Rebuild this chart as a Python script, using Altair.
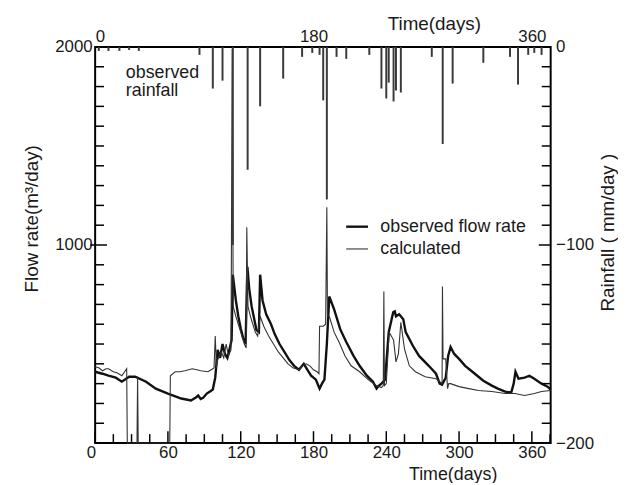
import altair as alt
import pandas as pd

# ---------------- data ----------------
series_names = ["observed flow rate", "calculated"]

obs_day = [0, 6, 11, 17, 22, 28, 33, 42, 50, 60, 71, 79, 83, 85, 87, 89, 92, 95, 97,
           99, 101, 103, 105, 107, 109, 111, 112.5, 113.5, 116, 118, 120, 122, 124,
           125.5, 127, 129, 131, 133, 135, 136, 138, 141, 145, 148, 152, 156, 160,
           164, 168, 172, 175, 178, 182, 185, 187, 189, 191, 193, 197, 202, 207, 213,
           218, 224, 229, 232, 234, 236, 239, 242, 245.7, 247, 248, 250.6, 254, 256,
           262, 267, 275, 281, 284, 286, 289, 291, 293, 296, 300, 305, 311, 316, 320,
           327, 332, 338, 343, 345, 346.5, 349, 354, 358, 362, 368, 373, 375.5]
obs_flow = [360, 350, 340, 330, 310, 335, 335, 310, 275, 250, 225, 215, 230, 240, 222, 228, 250, 262, 270,
            330, 470, 430, 500, 450, 430, 480, 520, 850, 720, 640, 580, 530, 500,
            890, 780, 690, 630, 570, 560, 850, 720, 650, 600, 550, 500, 460, 420,
            390, 370, 400, 370, 340, 320, 275, 300, 320, 500, 740, 675, 575, 510, 440,
            390, 340, 310, 275, 290, 300, 320, 560, 660, 665, 640, 650, 625, 560,
            490, 440, 390, 350, 300, 295, 330, 440, 485, 450, 425, 390, 360, 335, 315,
            290, 275, 260, 255, 300, 360, 325, 330, 340, 325, 300, 285, 270]

calc_day = [0, 3, 6, 9, 11, 15, 18, 22, 26, 26.5, 34.5, 35, 35.5, 61.5, 62, 66, 70, 74, 80,
            84, 87, 93, 97, 98, 99, 100, 101, 104, 106, 108, 110, 112, 113, 113.8, 116,
            118, 121, 123, 124.5, 125, 126, 128, 130, 132, 134, 136, 139, 143, 147, 151,
            155, 159, 163, 168, 171, 174, 177, 180, 183, 184.5, 185, 188, 190, 191, 191.5,
            193, 197, 201, 206, 211, 218, 226, 232, 236, 237.5, 238, 238.5, 240, 242.4,
            246, 248, 250, 252, 254, 255, 259, 264, 272, 281, 284, 286, 286.3, 286.8, 289,
            290.5, 291.5, 293, 300, 308, 316, 327, 338, 346, 354, 362, 368, 375.5]
calc_flow = [385, 380, 365, 375, 375, 360, 355, 340, 375, 0, 0, 335, 0, 0, 340, 360, 360, 365, 375,
             370, 365, 360, 375, 380, 540, 380, 420, 460, 430, 500, 440, 470, 1990, 690, 640,
             600, 540, 500, 480, 1090, 690, 640, 600, 560, 540, 640, 590, 540, 500, 460,
             430, 400, 380, 370, 390, 400, 390, 370, 360, 350, 590, 590, 600, 1190, 640,
             640, 560, 510, 440, 390, 360, 315, 290, 280, 290, 765, 290, 300, 560,
             520, 410, 450, 610, 520, 475, 390, 360, 335, 325, 310, 300, 790, 425, 425,
             275, 300, 300, 285, 275, 265, 260, 250, 250, 240, 250, 260, 265]

rain_day = [3, 11, 20, 28, 36, 86, 97, 105, 113.5, 125.7, 136, 155, 170.6, 179, 185, 188,
            191, 199, 207, 226, 236, 240, 242, 246, 248, 252, 277.5, 286.5, 294.7, 320,
            342, 348.6, 357, 362, 368]
rain_mm = [2, 2, 2, 1.5, 2, 4, 21, 17, 100, 62, 30, 16, 5, 3, 4, 27,
           77, 5, 6, 4, 21, 26, 18, 27.5, 22, 23, 5, 49, 18.5, 8,
           5, 19, 4, 3, 4]

bottom_labels = [0, 60, 120, 180, 240, 300, 360]
top_labels = [0, 180, 360]
left_labels = [1000, 2000]
right_labels = [-200, -100, 0]
x_minor_ticks = [d for d in range(0, 376, 15) if d % 60 != 0]
x_major_ticks = [0, 60, 120, 180, 240, 300, 360]
flow_minor_ticks = [f for f in range(0, 2001, 100) if f % 1000 != 0]
flow_major_ticks = [1000]
rain_minor_ticks = [r for r in range(-200, 1, 10) if r % 100 != 0]
rain_major_ticks = [-100]
note_text = "observed\nrainfall"

# ---------------- chart ----------------
W, H = 460, 400
FONT = "Liberation Sans"
INK = "#1a1a1a"

flow_df = pd.concat([
    pd.DataFrame({"day": obs_day, "flow": obs_flow, "series": series_names[0]}),
    pd.DataFrame({"day": calc_day, "flow": calc_flow, "series": series_names[1]}),
])
rain_df = pd.DataFrame({"day": rain_day, "rain": [-r for r in rain_mm]})
note_df = pd.DataFrame({"t": [note_text]})

xs = alt.Scale(domain=[0, 375.5], nice=False, zero=False)
fs = alt.Scale(domain=[0, 2000], nice=False)
rs = alt.Scale(domain=[-200, 0], nice=False)

leg = alt.Legend(title=None, orient="none", legendX=252, legendY=169,
                 symbolType="stroke", symbolSize=484, labelFontSize=18,
                 labelFont=FONT, labelColor=INK, labelOffset=11, rowPadding=1)

lines = alt.Chart(flow_df).mark_line().encode(
    x=alt.X("day:Q", scale=xs, axis=alt.Axis(
        orient="bottom", values=bottom_labels, title="Time(days)", labelPadding=2,
        labelOffset=alt.condition("datum.value == 0", alt.value(-9), alt.value(0)),
        titleFontSize=18, titleX=361, titleY=32, titleBaseline="middle")),
    y=alt.Y("flow:Q", scale=fs, axis=alt.Axis(
        orient="left", values=left_labels, format="d", title="Flow rate(m³/day)", labelPadding=3,
        titleX=-64, titleY=173, titleAngle=270, titleBaseline="middle")),
    color=alt.Color("series:N", scale=alt.Scale(domain=series_names, range=["#111111", "#333333"]), legend=leg),
    strokeWidth=alt.StrokeWidth("series:N", scale=alt.Scale(domain=series_names, range=[2.4, 1.1]), legend=leg),
)

rain = alt.Chart(rain_df).mark_rule(strokeWidth=2, color="#3a3a3a").encode(
    x=alt.X("day:Q", scale=xs, axis=alt.Axis(
        orient="top", values=top_labels, title="Time(days)", labelPadding=1,
        titleX=342, titleY=-24, titleBaseline="middle")),
    y=alt.Y("rain:Q", scale=rs, axis=alt.Axis(
        orient="right", values=right_labels, format="d", title="Rainfall ( mm/day )", labelPadding=5,
        titleX=57, titleY=187, titleAngle=270, titleBaseline="middle")),
    y2=alt.datum(0),
)


def xtick(vals, length):
    return alt.Chart(pd.DataFrame({"day": vals})).mark_rule(color="black", strokeWidth=1.5).encode(
        x=alt.X("day:Q", scale=xs, axis=None), y=alt.value(H), y2=alt.value(H - length))


def ftick(vals, x0, x1):
    return alt.Chart(pd.DataFrame({"flow": vals})).mark_rule(color="black", strokeWidth=1.5).encode(
        y=alt.Y("flow:Q", scale=fs, axis=None), x=alt.value(x0), x2=alt.value(x1))


def rtick(vals, length):
    return alt.Chart(pd.DataFrame({"rain": vals})).mark_rule(color="black", strokeWidth=1.5).encode(
        y=alt.Y("rain:Q", scale=rs, axis=None), x=alt.value(W), x2=alt.value(W - length))


note = alt.Chart(note_df).mark_text(
    align="left", baseline="alphabetic", lineBreak="\n", lineHeight=19,
    fontSize=18, font=FONT, color=INK,
).encode(x=alt.value(31), y=alt.value(31), text="t:N")

chart = alt.layer(
    lines, rain,
    xtick(x_minor_ticks, 9), xtick(x_major_ticks, 12),
    ftick(flow_minor_ticks, 0, 9), ftick(flow_major_ticks, -5, 12),
    rtick(rain_minor_ticks, 9), rtick(rain_major_ticks, 12),
    note,
).resolve_scale(
    x="independent", y="independent"
).properties(
    width=W, height=H,
    autosize=alt.AutoSizeParams(type="none"),
    padding={"left": 88, "top": 37, "right": 68, "bottom": 38},
).configure_view(stroke="black", strokeWidth=2).configure_axis(
    grid=False, domain=False, ticks=False,
    labelFont=FONT, titleFont=FONT, labelFontSize=17, titleFontSize=19,
    labelColor=INK, titleColor=INK, titleFontWeight="normal",
)

chart.save("out.html", embed_options={"renderer": "svg", "actions": False})
